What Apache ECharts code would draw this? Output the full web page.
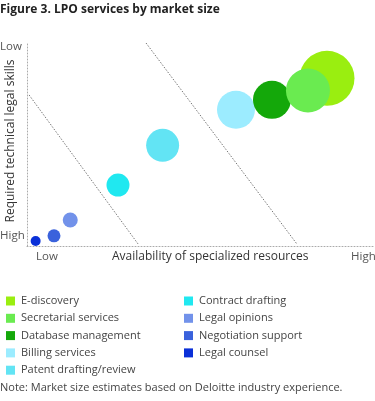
<!DOCTYPE html>
<html>
<head>
<meta charset="utf-8">
<script src="https://cdn.jsdelivr.net/npm/echarts@6/dist/echarts.min.js"></script>
<style>
  html, body { margin: 0; padding: 0; background: #fff; }
  #chart { width: 375px; height: 401px; }
</style>
</head>
<body>
<div id="chart"></div>
<script>
// services, in legend order
const names = ['E-discovery', 'Secretarial services', 'Database management', 'Billing services',
  'Patent drafting/review', 'Contract drafting', 'Legal opinions', 'Negotiation support', 'Legal counsel']
const colors = ['#9aee10', '#6aeb50', '#14a80a', '#9cecff', '#62e4f4', '#20e8f0', '#7292ea', '#3a62dc', '#0a30d8']
// availability of resources (0 low - 100 high)
const xValues = [86.7, 81.2, 70.8, 60.4, 39.2, 26.3, 12.5, 7.8, 2.5]
// technical skill (0 high - 100 low)
const yValues = [82.6, 76.6, 72.0, 67.1, 49.6, 30.0, 12.8, 5.0, 2.5]
// market size (bubble diameter)
const sizes = [55, 44, 38, 38, 33, 23, 15, 13, 10]
// dotted guide lines
const guide1 = [[0.6, 74.4], [32.1, 1.0]]
const guide2 = [[34.4, 100], [78.0, 1.0]]
// draw order (later on top)
const drawOrder = [8, 7, 6, 5, 4, 3, 2, 0, 1]

const font = '"Open Sans", sans-serif'
const chart = echarts.init(document.getElementById('chart'))

const series = drawOrder.map(i => ({
  name: names[i],
  type: 'scatter',
  data: [[xValues[i], yValues[i]]],
  symbolSize: sizes[i],
  itemStyle: { color: colors[i], opacity: 1 },
  emphasis: { disabled: true },
  z: 3
}))
;[guide1, guide2].forEach(g => {
  series.push({
    type: 'line',
    data: g,
    symbol: 'none',
    silent: true,
    lineStyle: { color: '#777', width: 1, type: [1.5, 1.5] },
    z: 2
  })
})

const legendBase = {
  orient: 'vertical',
  itemWidth: 9,
  itemHeight: 9,
  itemGap: 5.3,
  icon: 'rect',
  selectedMode: false,
  textStyle: { fontFamily: font, fontSize: 11, color: '#444', lineHeight: 12, padding: [0, 0, 0, 1] }
}

chart.setOption({
  animation: false,
  grid: { left: 27, right: 2, top: 43, bottom: 155 },
  xAxis: {
    type: 'value', min: 0, max: 100,
    axisLine: { lineStyle: { color: '#aaa', type: [1, 2] } },
    axisTick: { show: false }, axisLabel: { show: false }, splitLine: { show: false }
  },
  yAxis: {
    type: 'value', min: 0, max: 100,
    axisLine: { show: true, lineStyle: { color: '#aaa', type: [1, 2] } },
    axisTick: { show: false }, axisLabel: { show: false }, splitLine: { show: false }
  },
  legend: [
    Object.assign({ left: 1, top: 290, data: names.slice(0, 5) }, legendBase),
    Object.assign({ left: 179, top: 290, data: names.slice(5) }, legendBase)
  ],
  graphic: [
    { type: 'text', left: 0, top: 4, style: { text: 'Figure 3. LPO services by market size', font: 'bold 12px ' + font, fill: '#222' } },
    { type: 'text', left: 0, top: 41, style: { text: 'Low', font: '11.5px ' + font, fill: '#555' } },
    { type: 'text', left: 0, top: 230, style: { text: 'High', font: '11.5px ' + font, fill: '#555' } },
    { type: 'text', left: 36, top: 251, style: { text: 'Low', font: '11.5px ' + font, fill: '#555' } },
    { type: 'text', left: 351, top: 251, style: { text: 'High', font: '11.5px ' + font, fill: '#555' } },
    { type: 'text', left: 112, top: 251, style: { text: 'Availability of specialized resources', font: '500 12px ' + font, fill: '#333' } },
    { type: 'text', x: 11, y: 141, rotation: Math.PI / 2,
      style: { text: 'Required technical legal skills', font: '500 12px ' + font, fill: '#333', align: 'center', verticalAlign: 'middle' } },
    { type: 'text', left: 0, top: 382, style: { text: 'Note: Market size estimates based on Deloitte industry experience.', font: '11px ' + font, fill: '#444' } }
  ],
  series: series
})
</script>
</body>
</html>
